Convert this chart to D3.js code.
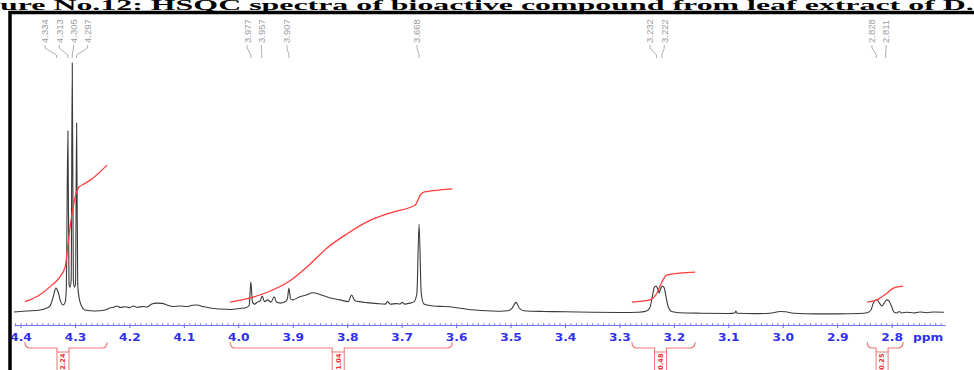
<!DOCTYPE html>
<html>
<head>
<meta charset="utf-8">
<script src="https://cdn.jsdelivr.net/npm/d3@7"></script>
<style>
  body { margin: 0; background: #fff; }
  svg { display: block; }
</style>
</head>
<body>
<script>
// spectrum: [ppm, intensity] (tallest peak = 100)
var spectrum = [
  [4.412, -1.2], [4.390, -0.8], [4.364, -0.4], [4.352, 0.4], [4.346, 1.2],
  [4.340, 4.9], [4.335, 8.5], [4.331, 6.9], [4.326, 2.8], [4.322, 1.6],
  [4.318, 2.8], [4.316, 8.1], [4.313, 72.4], [4.311, 10.2], [4.309, 8.9],
  [4.307, 11.8], [4.305, 100], [4.303, 11.8], [4.301, 8.9], [4.299, 10.2],
  [4.297, 75.6], [4.295, 9.8], [4.292, 4.1], [4.288, 1.2], [4.282, -0.4],
  [4.263, -0.8], [4.245, -0.4], [4.236, 0.4], [4.228, 0.8], [4.222, 1.2],
  [4.217, 0.6], [4.208, 0.9], [4.200, 0.5], [4.193, 1.2], [4.185, 0.7],
  [4.175, 1.0], [4.168, 0.8], [4.159, 2.0], [4.150, 2.4], [4.140, 2.3],
  [4.131, 1.6], [4.120, 1.0], [4.108, 1.2], [4.094, 1.0], [4.085, 1.5],
  [4.075, 1.6], [4.065, 1.0], [4.052, 0.4], [4.034, 0.0], [4.015, -0.2],
  [3.997, 0.2], [3.985, 0.6], [3.980, 1.4], [3.977, 11.1], [3.974, 2.8],
  [3.970, 2.0], [3.965, 2.8], [3.960, 3.3], [3.956, 5.3], [3.952, 3.0],
  [3.946, 3.7], [3.940, 2.8], [3.934, 5.0], [3.930, 2.8], [3.923, 2.4],
  [3.915, 2.8], [3.910, 4.0], [3.907, 8.4], [3.904, 4.1], [3.900, 3.7],
  [3.887, 5.0], [3.875, 5.7], [3.863, 6.6], [3.850, 5.9], [3.838, 5.0],
  [3.825, 4.2], [3.813, 3.7], [3.798, 3.0], [3.792, 5.7], [3.786, 3.4],
  [3.775, 2.9], [3.764, 2.6], [3.745, 2.2], [3.730, 2.0], [3.726, 3.0],
  [3.721, 2.0], [3.710, 2.2], [3.703, 2.0], [3.699, 2.7], [3.695, 2.0],
  [3.685, 2.4], [3.677, 3.0], [3.672, 6.4], [3.668, 34.4], [3.664, 6.4],
  [3.659, 2.0], [3.642, 1.2], [3.622, 1.0], [3.605, 0.7], [3.580, -0.1],
  [3.544, -0.7], [3.519, -0.9], [3.505, -0.7], [3.497, 0.4], [3.490, 2.7],
  [3.484, 0.4], [3.476, -0.7], [3.440, -1.0], [3.400, -1.1], [3.350, -1.3],
  [3.300, -1.4], [3.265, -1.3], [3.250, -0.8], [3.244, 0.6], [3.240, 4.5],
  [3.236, 8.7], [3.233, 9.3], [3.229, 7.8], [3.227, 6.5], [3.225, 7.8],
  [3.221, 9.3], [3.218, 8.7], [3.214, 4.5], [3.210, 0.6], [3.204, -1.0],
  [3.190, -1.5], [3.150, -1.7], [3.100, -1.8], [3.088, -1.6], [3.086, -0.8],
  [3.084, -1.7], [3.050, -1.9], [3.020, -1.6], [3.005, -1.0], [2.995, -1.1],
  [2.980, -1.7], [2.940, -2.0], [2.900, -2.0], [2.860, -1.8], [2.845, -1.5],
  [2.838, -0.4], [2.834, 2.2], [2.830, 3.5], [2.827, 3.7], [2.823, 2.6],
  [2.818, 1.2], [2.813, 2.6], [2.809, 3.7], [2.805, 3.3], [2.800, 1.0],
  [2.796, -1.2], [2.790, -1.6], [2.786, -1.0], [2.782, -1.6], [2.772, -1.3],
  [2.760, -1.6], [2.748, -1.2], [2.736, -1.5], [2.722, -1.2], [2.704, -1.3]
];

// integral curves, same intensity units
var integral1 = [[4.392, 3.0], [4.368, 5.3], [4.342, 9.8], [4.328, 13.0], [4.318, 17.1],
  [4.313, 26.0], [4.309, 33.5], [4.304, 40.5], [4.298, 47.0], [4.293, 49.5],
  [4.285, 50.6], [4.272, 52.4], [4.241, 58.5]];
var integral2 = [[4.015, 2.8], [3.978, 4.5], [3.947, 6.8], [3.905, 11.5], [3.868, 18.3],
  [3.837, 24.8], [3.800, 30.6], [3.758, 36.0], [3.716, 39.4], [3.675, 42.3],
  [3.670, 44.3], [3.666, 46.3], [3.658, 47.6], [3.629, 48.4], [3.607, 48.8]];
var integral3 = [[3.277, 2.8], [3.244, 3.7], [3.231, 6.5], [3.222, 11.0], [3.213, 13.8],
  [3.189, 14.6], [3.161, 15.0]];
var integral4 = [[2.845, 2.8], [2.827, 3.7], [2.808, 6.5], [2.797, 8.5], [2.779, 9.3]];
var integrals = [integral1, integral2, integral3, integral4];
var integralValues = ["2.24", "1.04", "0.48", "0.25"];

var peakLabels = [4.334, 4.313, 4.305, 4.297, 3.977, 3.957, 3.907, 3.668, 3.232, 3.222, 2.828, 2.811];
var tickValues = [4.4, 4.3, 4.2, 4.1, 4.0, 3.9, 3.8, 3.7, 3.6, 3.5, 3.4, 3.3, 3.2, 3.1, 3.0, 2.9, 2.8];
var minorTicks = d3.range(271, 442).map(function(d) { return d / 100; });

var titleText = "Figure No.12: HSQC spectra of bioactive compound from leaf extract of D. metel";

var width = 974, height = 370;

var svg = d3.select("body")
  .append("svg")
  .attr("width", width)
  .attr("height", height);

var x = d3.scaleLinear().domain([4.412, 2.702]).range([14, 945]);
var y = d3.scaleLinear().domain([0, 100]).range([309, 63]);

var line = d3.line()
  .x(function(d) { return x(d[0]); })
  .y(function(d) { return y(d[1]); })
  .curve(d3.curveMonotoneX);

// title, stretched sideways and cut off at both sides like the source
var title = svg.append("text")
  .style("font-family", "'Liberation Serif', 'Times New Roman', serif")
  .style("font-weight", "bold")
  .style("font-size", "14.5px")
  .text("Fig");
var w0 = title.node().getComputedTextLength();
title.text("Figure No.12: HSQC spectra of bioactive compound from leaf extract of D");
var w1 = title.node().getComputedTextLength();
var sx = 966 / (w1 - w0);
title.attr("transform", "translate(" + (-w0 * sx) + ",10) scale(" + sx + ",1)")
  .text(titleText);

// spectrum
svg.append("path")
  .datum(spectrum)
  .attr("d", line)
  .attr("fill", "none")
  .attr("stroke", "#3a3a3a")
  .attr("stroke-width", 1.1);

// integral curves
svg.selectAll(".integral")
  .data(integrals)
  .enter().append("path")
  .attr("class", "integral")
  .attr("d", line)
  .attr("fill", "none")
  .attr("stroke", "#ff3c3c")
  .attr("stroke-width", 1.3);

// peak labels, spread apart where they would overlap
function spread(xs, gap) {
  var groups = xs.map(function(v) { return [v]; });
  var pos = function(g) {
    var c = d3.mean(g);
    return g.map(function(v, k) { return c + (k - (g.length - 1) / 2) * gap; });
  };
  var merged = true;
  while (merged) {
    merged = false;
    for (var i = 0; i < groups.length - 1; i++) {
      var a = pos(groups[i]), b = pos(groups[i + 1]);
      if (a[a.length - 1] + gap > b[0]) {
        groups.splice(i, 2, groups[i].concat(groups[i + 1]));
        merged = true;
        break;
      }
    }
  }
  return [].concat.apply([], groups.map(pos));
}

var peakX = peakLabels.map(function(p) { return x(p); });
var labelX = spread(peakX, 14.2);

var labels = svg.append("g");
peakLabels.forEach(function(p, i) {
  var px = peakX[i], lx = labelX[i] - 2;
  labels.append("path")
    .attr("d", "M" + lx + ",45L" + lx + ",48L" + px + ",55L" + px + ",58")
    .attr("fill", "none")
    .attr("stroke", "#a8a8a8")
    .attr("stroke-width", 0.9);
  labels.append("text")
    .attr("transform", "translate(" + lx + ",43) rotate(-90)")
    .attr("dy", "0.35em")
    .style("font-family", "'Liberation Sans', Arial, sans-serif")
    .style("font-size", "9.5px")
    .style("fill", "#9c9c9c")
    .text(p.toFixed(3));
});

// axis
var axisY = 325;
var minor = svg.append("g")
  .attr("transform", "translate(0," + axisY + ")")
  .call(d3.axisTop(x).tickValues(minorTicks).tickSize(2).tickSizeOuter(0).tickFormat(""));
minor.select(".domain").attr("stroke", "#6f6ff2");
minor.selectAll(".tick line").attr("stroke", "#8a8af5");

var major = svg.append("g")
  .attr("transform", "translate(0," + axisY + ")")
  .call(d3.axisBottom(x).tickValues(tickValues).tickSize(3).tickSizeOuter(0).tickFormat(d3.format(".1f")));
major.select(".domain").remove();
major.selectAll(".tick line").attr("stroke", "#6f6ff2");
major.selectAll("text")
  .attr("y", null)
  .attr("dy", null)
  .attr("transform", "translate(0,16) scale(1.22,1)")
  .style("font-family", "'DejaVu Sans', sans-serif")
  .style("font-weight", "bold")
  .style("font-size", "10px")
  .style("fill", "#2f2ff0");

svg.append("text")
  .attr("transform", "translate(913," + (axisY + 16) + ") scale(1.22,1)")
  .style("font-family", "'DejaVu Sans', sans-serif")
  .style("font-weight", "bold")
  .style("font-size", "10px")
  .style("fill", "#2f2ff0")
  .text("ppm");

// integration brackets
var brackets = svg.append("g");
integrals.forEach(function(curve, i) {
  var x1 = x(curve[0][0]), x2 = x(curve[curve.length - 1][0]);
  var bx = (x1 + x2) / 2 - 3;
  brackets.append("path")
    .attr("d", "M" + x1 + ",342Q" + x1 + ",348 " + (x1 + 5) + ",348L" + (bx - 6) + ",348L" + (bx - 6) + ",352" +
               "M" + (bx + 6) + ",352L" + (bx + 6) + ",348L" + (x2 - 5) + ",348Q" + x2 + ",348 " + x2 + ",342")
    .attr("fill", "none")
    .attr("stroke", "#f07878")
    .attr("stroke-width", 1.1);
  brackets.append("rect")
    .attr("x", bx - 6)
    .attr("y", 352)
    .attr("width", 12)
    .attr("height", 24)
    .attr("fill", "#fff")
    .attr("stroke", "#f07878")
    .attr("stroke-width", 1);
  brackets.append("text")
    .attr("transform", "translate(" + bx + ",353.5) rotate(-90)")
    .attr("dy", "0.35em")
    .attr("text-anchor", "end")
    .style("font-family", "'DejaVu Sans', sans-serif")
    .style("font-weight", "bold")
    .style("font-size", "6.6px")
    .style("fill", "#f03030")
    .text(integralValues[i]);
});

// frame
svg.append("rect")
  .attr("x", 10)
  .attr("y", 12.5)
  .attr("width", 1000)
  .attr("height", 400)
  .attr("fill", "none")
  .attr("stroke", "#000")
  .attr("stroke-width", 3.5);
</script>
</body>
</html>
